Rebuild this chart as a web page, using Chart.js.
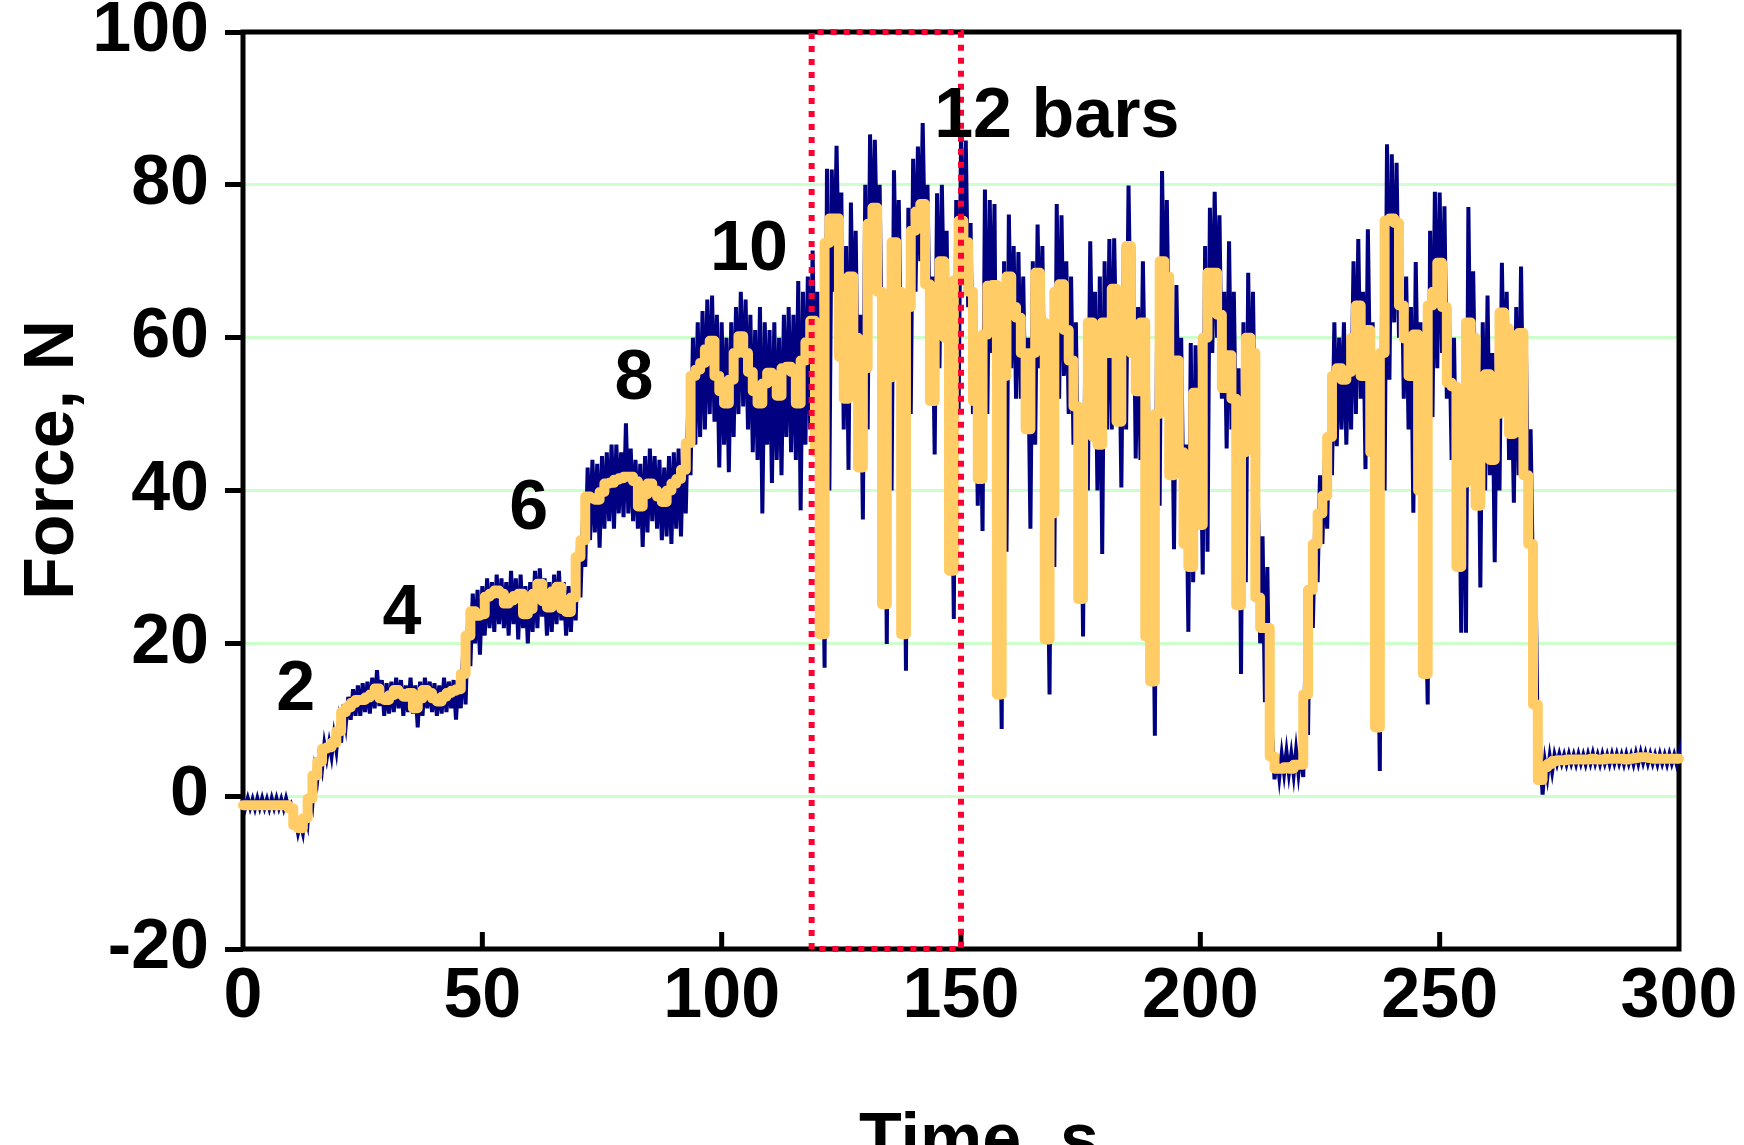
<!DOCTYPE html>
<html>
<head>
<meta charset="utf-8">
<script src="https://cdn.jsdelivr.net/npm/chart.js@4.4.1/dist/chart.umd.min.js"></script>
<style>
  html, body { margin: 0; padding: 0; background: #fff; }
  canvas { display: block; }
</style>
</head>
<body>
<canvas id="forceChart" width="1744" height="1145"></canvas>
<script>
// smoothed force, one value per second (t = 0..300 s)
const smoothForce = [
  -1.2, -1.2, -1.2, -1.2, -1.2, -1.2, -1.2, -1.2, -1.2, -1.2,
  -1.6, -3.8, -4.2, -2.9, -0.3, 2.7, 4.5, 6.2, 6.4, 7.0,
  8.5, 11.0, 11.6, 12.2, 12.6, 12.6, 12.9, 13.3, 14.1, 12.8,
  12.6, 13.2, 13.9, 13.4, 13.0, 13.5, 11.5, 12.8, 13.9, 13.5,
  12.8, 12.4, 13.0, 13.5, 13.8, 14.0, 16.0, 21.0, 24.2, 23.6,
  23.8, 26.1, 26.5, 26.9, 26.5, 25.2, 25.6, 26.2, 26.5, 23.8,
  24.5, 26.5, 27.8, 25.5, 24.7, 26.8, 27.4, 24.5, 24.1, 26.0,
  31.3, 33.5, 39.2, 39.0, 38.8, 39.8, 40.9, 41.0, 41.4, 41.6,
  41.8, 41.8, 41.2, 37.9, 39.5, 40.9, 40.0, 39.2, 38.5, 40.0,
  40.9, 41.5, 42.7, 46.2, 55.0, 55.8, 56.7, 58.5, 59.6, 55.0,
  53.0, 51.4, 54.5, 58.0, 60.2, 58.0, 55.5, 53.0, 51.4, 54.0,
  55.4, 54.5, 52.4, 56.0, 56.2, 55.5, 51.4, 57.0, 59.4, 62.2,
  45.0, 21.2, 72.4, 75.6, 75.6, 57.5, 52.0, 68.0, 60.0, 43.0,
  56.0, 74.9, 77.0, 66.0, 25.1, 54.8, 72.5, 66.0, 21.2, 64.0,
  74.0, 76.5, 77.5, 67.0, 51.7, 66.0, 70.0, 60.0, 29.5, 67.5,
  75.3, 72.5, 66.0, 51.7, 41.5, 60.4, 66.8, 66.9, 13.3, 55.0,
  68.0, 64.0, 62.6, 58.0, 48.0, 58.0, 68.5, 62.0, 20.5, 37.0,
  66.0, 67.0, 61.0, 57.0, 51.0, 25.8, 49.5, 62.0, 47.0, 46.0,
  62.0, 58.0, 66.4, 49.0, 60.0, 72.0, 58.0, 53.0, 62.0, 20.9,
  15.0, 50.0, 70.0, 68.0, 42.0, 57.0, 45.0, 33.0, 30.0, 52.8,
  35.5, 60.0, 68.5, 68.5, 63.0, 53.4, 57.7, 52.0, 25.0, 45.0,
  60.0, 58.0, 26.0, 22.0, 22.0, 5.2, 3.6, 3.6, 3.8, 3.6,
  4.1, 4.1, 13.3, 27.0, 33.0, 37.0, 39.3, 47.0, 55.0, 56.0,
  54.5, 55.5, 60.0, 64.2, 55.0, 61.0, 45.0, 9.0, 58.0, 75.3,
  75.6, 75.0, 64.2, 59.9, 55.0, 60.4, 40.0, 16.0, 64.2, 66.0,
  69.8, 64.0, 54.1, 53.6, 30.0, 41.0, 62.0, 60.0, 38.0, 52.0,
  55.2, 44.0, 50.0, 63.3, 61.2, 47.4, 55.0, 60.6, 42.0, 33.0,
  12.0, 2.1, 3.8, 4.2, 4.6, 4.7, 4.7, 4.8, 4.8, 4.8,
  4.8, 4.8, 4.9, 4.8, 4.8, 4.9, 4.9, 4.9, 4.9, 4.8,
  4.9, 5.0, 5.1, 5.1, 5.0, 4.9, 4.9, 4.9, 4.9, 4.9,
  4.9
];

// raw force: top and bottom of the noise in each second
const rawHigh = [
  -0.3, -0.3, -0.4, -0.3, -0.3, -0.4, -0.3, -0.3, -0.4, -0.3,
  -1.0, -3.0, -3.5, -2.0, 0.5, 3.5, 5.0, 6.8, 7.0, 8.0,
  9.5, 12.0, 13.0, 14.0, 14.5, 14.8, 15.0, 15.5, 16.5, 15.2,
  14.8, 15.0, 15.5, 15.2, 14.5, 15.5, 14.5, 15.0, 15.5, 15.0,
  14.8, 14.5, 15.5, 15.0, 15.2, 15.5, 19.0, 23.0, 26.5, 27.0,
  27.5, 28.5, 28.0, 29.0, 28.5, 28.0, 29.5, 28.5, 29.0, 27.5,
  28.0, 29.5, 29.8, 28.5, 28.0, 29.0, 29.5, 28.0, 27.5, 28.5,
  33.0, 36.0, 43.0, 44.0, 43.5, 44.5, 45.0, 46.0, 46.0, 45.0,
  48.8, 45.5, 44.0, 43.5, 44.5, 45.5, 44.5, 44.0, 43.0, 44.5,
  45.0, 45.5, 46.0, 51.0, 60.0, 62.0, 63.5, 65.0, 65.5, 63.0,
  62.0, 60.0, 62.0, 64.0, 66.0, 65.0, 63.0, 61.0, 64.0, 62.0,
  61.0, 62.0, 60.0, 63.0, 64.0, 63.0, 67.4, 66.0, 68.0, 71.4,
  66.0, 44.0, 82.1, 82.0, 85.1, 79.0, 72.0, 77.7, 74.0, 63.0,
  80.0, 86.6, 85.9, 80.0, 62.0, 72.0, 81.9, 78.0, 56.0, 77.0,
  83.4, 85.0, 88.1, 80.0, 68.0, 78.9, 80.0, 74.0, 52.0, 78.0,
  85.9, 85.8, 75.0, 64.0, 56.0, 79.4, 78.0, 77.5, 35.0, 70.0,
  76.1, 72.0, 71.2, 68.0, 60.0, 70.0, 74.8, 72.0, 40.0, 60.0,
  77.5, 76.0, 70.0, 68.0, 62.0, 50.0, 62.0, 72.6, 66.0, 68.0,
  70.0, 72.9, 73.0, 64.0, 72.0, 79.9, 72.0, 64.0, 70.0, 60.0,
  40.0, 66.0, 81.8, 78.0, 60.0, 66.9, 60.0, 46.0, 59.3, 59.0,
  52.0, 72.0, 77.0, 79.1, 76.0, 66.0, 72.6, 66.0, 56.0, 62.0,
  68.5, 66.0, 40.0, 34.0, 30.0, 8.0, 5.5, 5.5, 5.8, 5.5,
  6.0, 6.0, 20.0, 32.0, 36.0, 42.0, 44.0, 52.0, 62.0, 60.0,
  62.0, 60.0, 70.0, 72.9, 66.0, 74.2, 62.0, 30.0, 70.0, 85.3,
  84.0, 82.9, 74.0, 68.0, 64.0, 69.9, 62.0, 30.0, 74.0, 79.1,
  79.0, 77.2, 62.0, 60.0, 48.0, 56.0, 77.1, 68.7, 60.0, 62.0,
  65.5, 58.0, 60.0, 69.8, 66.0, 56.0, 64.0, 69.3, 60.0, 48.0,
  30.0, 6.0, 4.5, 5.2, 5.4, 5.5, 5.4, 5.5, 5.4, 5.5,
  5.4, 5.5, 5.6, 5.4, 5.5, 5.4, 5.5, 5.5, 5.4, 5.5,
  5.4, 5.6, 5.7, 5.6, 5.5, 5.4, 5.5, 5.4, 5.5, 5.4,
  5.5
];

const rawLow = [
  -1.5, -1.5, -1.6, -1.5, -1.5, -1.6, -1.5, -1.5, -1.6, -1.5,
  -2.0, -4.8, -4.8, -3.5, -1.0, 2.0, 3.5, 5.0, 5.2, 6.0,
  7.0, 9.5, 10.0, 10.5, 10.5, 11.0, 10.8, 11.5, 11.8, 10.5,
  10.8, 11.0, 11.5, 10.5, 11.0, 10.8, 9.0, 10.5, 11.5, 11.0,
  10.5, 10.8, 11.0, 11.5, 10.0, 11.5, 12.0, 17.0, 20.0, 18.5,
  21.0, 22.0, 21.5, 22.5, 22.0, 21.0, 22.5, 20.5, 22.0, 20.0,
  21.5, 22.0, 23.5, 21.0, 21.5, 22.5, 23.0, 21.0, 21.5, 23.0,
  26.0, 30.0, 33.5, 34.5, 32.5, 35.0, 36.0, 35.0, 37.0, 36.5,
  37.0, 36.0, 35.0, 32.6, 34.5, 36.0, 35.0, 33.5, 34.0, 33.0,
  35.0, 34.0, 37.0, 42.0, 46.0, 47.0, 48.0, 50.0, 49.0, 43.0,
  46.0, 42.4, 47.0, 50.0, 51.0, 48.0, 45.0, 44.0, 37.0, 46.0,
  41.0, 44.0, 42.0, 47.0, 45.0, 44.0, 37.4, 46.0, 48.0, 52.0,
  30.0, 16.8, 40.0, 66.0, 68.0, 48.0, 42.7, 58.0, 48.0, 36.2,
  48.0, 68.0, 70.0, 55.0, 19.9, 40.0, 64.0, 56.0, 16.4, 50.0,
  66.0, 70.0, 70.0, 58.0, 44.7, 56.0, 62.0, 46.0, 23.2, 50.0,
  68.0, 64.0, 50.0, 38.0, 34.7, 50.0, 58.0, 32.8, 8.8, 32.0,
  56.0, 52.0, 52.0, 48.0, 35.0, 46.0, 56.0, 46.0, 13.3, 30.0,
  52.0, 55.0, 50.0, 46.0, 38.0, 20.9, 40.0, 52.0, 40.0, 31.7,
  48.0, 48.0, 56.0, 40.4, 48.0, 58.0, 44.2, 44.0, 50.0, 15.0,
  7.9, 38.0, 60.0, 56.0, 32.3, 48.0, 36.0, 21.5, 28.0, 42.0,
  29.0, 32.0, 58.0, 60.0, 52.0, 45.5, 48.0, 44.0, 16.0, 28.0,
  46.3, 42.0, 20.0, 12.3, 8.0, 2.2, 2.5, 3.0, 3.0, 2.8,
  3.0, 2.5, 8.0, 22.0, 28.0, 33.0, 35.0, 42.0, 45.8, 48.0,
  46.0, 48.0, 50.0, 52.0, 42.8, 52.0, 30.0, 3.3, 40.0, 54.5,
  62.0, 60.0, 52.0, 48.0, 37.1, 50.0, 26.0, 12.0, 49.6, 56.0,
  58.0, 52.0, 44.0, 38.0, 21.4, 21.4, 50.0, 48.0, 27.3, 40.0,
  42.0, 30.6, 40.0, 50.0, 44.0, 38.4, 42.0, 46.0, 36.0, 27.6,
  6.0, 0.2, 2.5, 3.2, 4.2, 4.3, 4.2, 4.3, 4.2, 4.3,
  4.2, 4.3, 4.3, 4.2, 4.3, 4.2, 4.3, 4.3, 4.2, 4.3,
  4.2, 4.3, 4.4, 4.3, 4.3, 4.2, 4.3, 4.2, 4.3, 4.2,
  4.3
];

// pressure labels written on the plot
const stepLabels = ['2', '4', '6', '8', '10', '12 bars'];
const stepLabelTime = [11.0, 33.2, 59.7, 81.7, 105.7, 170.0];
const stepLabelForce = [11.3, 21.2, 34.9, 52.0, 68.9, 86.3];

// dotted box round the 12 bar window
const boxTime = [118.8, 118.8, 150.0, 150.0, 118.8];
const boxForce = [-20, 100, 100, -20, -20];

const xTicks = [0, 50, 100, 150, 200, 250, 300];

const FONT = '"Liberation Sans", Arial, sans-serif';

const smoothPts = smoothForce.map((v, i) => ({ x: i, y: v }));
const rawPts = [];
rawHigh.forEach((hi, i) => {
  rawPts.push({ x: i, y: hi });
  if (i < rawHigh.length - 1) rawPts.push({ x: i + 0.5, y: rawLow[i] });
  else rawPts.push({ x: i, y: rawLow[i] });
});
const boxPts = boxTime.map((t, i) => ({ x: t, y: boxForce[i] }));

const framePlugin = {
  id: 'frame',
  beforeDatasetsDraw(chart) {
    const { ctx, chartArea: a, scales } = chart;
    ctx.save();
    ctx.strokeStyle = '#000';
    ctx.lineWidth = 5;
    ctx.strokeRect(a.left, a.top, a.right - a.left, a.bottom - a.top);
    // x ticks point into the plot
    xTicks.slice(1, -1).forEach(t => {
      const px = scales.x.getPixelForValue(t);
      ctx.beginPath();
      ctx.moveTo(px, a.bottom);
      ctx.lineTo(px, a.bottom - 17);
      ctx.stroke();
    });
    ctx.restore();
  },
  afterDatasetsDraw(chart) {
    const { ctx, scales } = chart;
    ctx.save();
    ctx.fillStyle = '#000';
    ctx.font = `bold 70px ${FONT}`;
    ctx.textAlign = 'center';
    ctx.textBaseline = 'alphabetic';
    stepLabels.forEach((s, i) => {
      ctx.fillText(s, scales.x.getPixelForValue(stepLabelTime[i]), scales.y.getPixelForValue(stepLabelForce[i]));
    });
    // axis titles
    ctx.fillText('Time, s', 979, 1162);
    ctx.translate(73, 460);
    ctx.rotate(-Math.PI / 2);
    ctx.fillText('Force, N', 0, 0);
    ctx.restore();
  }
};

new Chart(document.getElementById('forceChart'), {
  type: 'line',
  data: {
    datasets: [
      { label: 'box', data: boxPts, borderColor: '#FF0033', borderWidth: 6, borderDash: [6, 7],
        pointRadius: 0, tension: 0, clip: false, order: 0 },
      { label: 'smoothed', data: smoothPts, borderColor: '#FFCC66', borderWidth: 10, stepped: 'middle',
        borderJoinStyle: 'round', borderCapStyle: 'round', pointRadius: 0, clip: 8, order: 1 },
      { label: 'raw', data: rawPts, borderColor: '#000080', borderWidth: 4, pointRadius: 0,
        tension: 0, clip: 8, order: 2 }
    ]
  },
  options: {
    responsive: false,
    animation: false,
    devicePixelRatio: 1,
    parsing: false,
    layout: { padding: { top: 32, right: 65, left: 0, bottom: 0 } },
    plugins: { legend: { display: false }, tooltip: { enabled: false } },
    scales: {
      x: {
        type: 'linear', min: 0, max: 300,
        afterFit: s => { s.height = 196; },
        afterBuildTicks: s => { s.ticks = xTicks.map(v => ({ value: v })); },
        grid: { display: false, drawTicks: false },
        border: { display: false },
        ticks: { color: '#000', padding: 0, font: { family: FONT, size: 70, weight: 'bold', lineHeight: 1.4 } }
      },
      y: {
        min: -20, max: 100,
        afterFit: s => { s.width = 243; },
        grid: { color: '#CCFFCC', lineWidth: 3, tickColor: '#000', tickWidth: 5, tickLength: 18 },
        border: { display: false },
        ticks: { stepSize: 20, color: '#000', padding: 16, font: { family: FONT, size: 70, weight: 'bold', lineHeight: 0.3 } }
      }
    }
  },
  plugins: [framePlugin]
});
</script>
</body>
</html>
